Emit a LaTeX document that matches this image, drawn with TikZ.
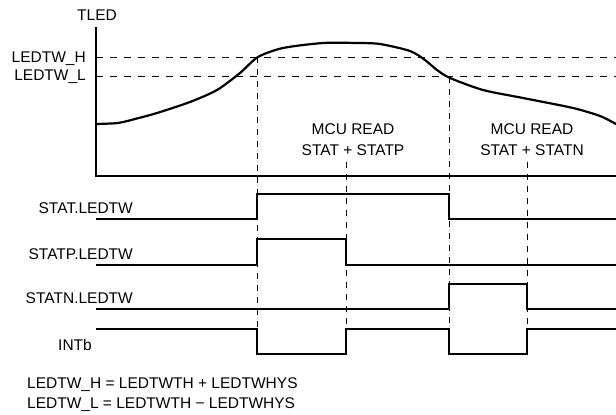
\documentclass[tikz,border=0pt]{standalone}
\usepackage{fontspec}
\setmainfont{Liberation Sans}
\begin{document}
\begin{tikzpicture}[x=1pt,y=-1pt,
  lbl/.style={inner sep=0pt,font=\fontsize{15.5}{17}\selectfont},
  sig/.style={line width=2.2pt,line join=miter},
  grid/.style={line width=0.9pt,dash pattern=on 7pt off 7pt},
  vgrid/.style={line width=0.9pt,dash pattern=on 6pt off 6pt}]
\useasboundingbox (0,0) rectangle (616,415);
% axes
\coordinate (ytop) at (96,27);
\coordinate (orig) at (96,176);
\coordinate (xend) at (616,176);
% thresholds
\coordinate (hL) at (96,57); \coordinate (hR) at (616,57);
\coordinate (lL) at (96,76); \coordinate (lR) at (616,76);
\draw[grid] (hL) -- (hR);
\draw[grid] (lL) -- (lR);
% vertical markers
\coordinate (v1t) at (257,57);  \coordinate (v1b) at (257,329);
\coordinate (v2t) at (346,162); \coordinate (v2b) at (346,329);
\coordinate (v3t) at (449,77);  \coordinate (v3b) at (449,329);
\coordinate (v4t) at (527,162); \coordinate (v4b) at (527,329);
\draw[vgrid] (v1t) -- (v1b);
\draw[vgrid] (v2t) -- (v2b);
\draw[vgrid] (v3t) -- (v3b);
\draw[vgrid] (v4t) -- (v4b);
\draw[sig] (ytop) -- (orig) -- (xend);
% temperature curve
\draw[line width=2.2pt,line cap=round] plot[smooth,tension=0.45] coordinates {
 (96,124) (118,123) (135,119) (157,113) (190,102) (217,90) (240,73) (258,57)
 (283,48) (323,43) (357,43) (380,44) (410,51) (425,60) (437,70) (450,78) (483,90)
 (523,98) (573,108) (600,116) (616,124)};
% labels
\node[lbl,anchor=base] (tled) at (97,20) {TLED};
\node[lbl,anchor=base east] (lh) at (86,62) {LEDTW\_H};
\node[lbl,anchor=base east] (ll) at (86,80) {LEDTW\_L};
\node[lbl,anchor=base] (m1a) at (353,134) {MCU READ};
\node[lbl,anchor=base] (m1b) at (353,155) {STAT + STATP};
\node[lbl,anchor=base] (m2a) at (532,134) {MCU READ};
\node[lbl,anchor=base] (m2b) at (532,155) {STAT + STATN};
% signals
\node[lbl,anchor=base east] (s1) at (133,213) {STAT.LEDTW};
\draw[sig] (96,219) -- (257,219) -- (257,194) -- (449,194) -- (449,219) -- (616,219);
\node[lbl,anchor=base east] (s2) at (133,259) {STATP.LEDTW};
\draw[sig] (96,265) -- (257,265) -- (257,239) -- (346,239) -- (346,265) -- (616,265);
\node[lbl,anchor=base east] (s3) at (133,303) {STATN.LEDTW};
\draw[sig] (96,309) -- (449,309) -- (449,284) -- (527,284) -- (527,309) -- (616,309);
\node[lbl,anchor=base east] (s4) at (92,350) {INTb};
\draw[sig] (96,329) -- (257,329) -- (257,354) -- (346,354) -- (346,329) -- (449,329)
  -- (449,354) -- (527,354) -- (527,329) -- (616,329);
% footer
\node[lbl,anchor=base west] (f1) at (27,388) {LEDTW\_H = LEDTWTH + LEDTWHYS};
\node[lbl,anchor=base west] (f2) at (27,408) {LEDTW\_L = LEDTWTH − LEDTWHYS};
\end{tikzpicture}
\end{document}
